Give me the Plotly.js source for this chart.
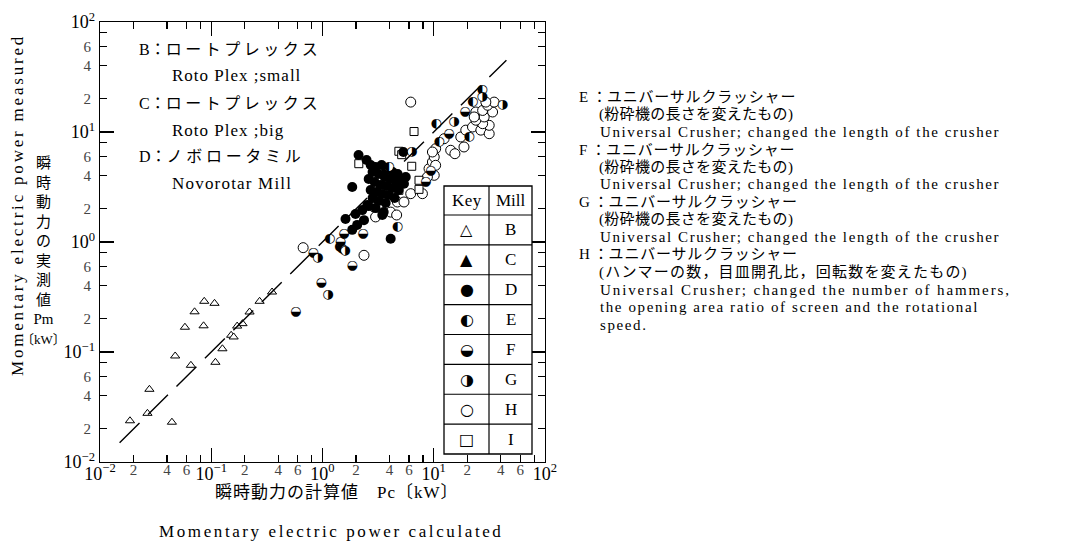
<!DOCTYPE html>
<html><head><meta charset="utf-8">
<script src="https://cdn.plot.ly/plotly-3.0.1.min.js"></script>
<style>body{margin:0;background:#fff}</style>
</head><body>
<div id="chart" style="width:1075px;height:542px"></div>
<script>
// ---------- tick labels ----------
const decadeVals = [0.01, 0.1, 1, 10, 100];
const decadeText = ['10<sup>−2</sup>', '10<sup>−1</sup>', '10<sup>0</sup>', '10<sup>1</sup>', '10<sup>2</sup>'];
const minorVals = [0.02, 0.04, 0.06, 0.2, 0.4, 0.6, 2, 4, 6, 20, 40, 60];
const minorText = ['2', '4', '6', '2', '4', '6', '2', '4', '6', '2', '4', '6'];
const eighthVals = [0.08, 0.8, 8, 80];

// ---------- data: Pc (calculated) vs Pm (measured), kW ----------
// B: Roto Plex small (open triangles)
const xB = [0.0186, 0.0267, 0.0278, 0.0443, 0.0474, 0.058, 0.0656, 0.0708, 0.0865, 0.107, 0.0853, 0.109, 0.126, 0.151, 0.159, 0.171, 0.191, 0.221, 0.272, 0.352];
const yB = [0.0237, 0.0277, 0.0458, 0.023, 0.092, 0.168, 0.0757, 0.232, 0.289, 0.277, 0.173, 0.0806, 0.107, 0.142, 0.137, 0.172, 0.181, 0.231, 0.289, 0.351];
// D: Novorotar Mill (filled circles)
const xD = [2.11, 2.49, 1.85, 1.61, 1.98, 2.28, 2.53, 2.05, 2.36, 1.85, 3.45, 4.10, 5.33, 5.40, 5.60,
  2.71, 3.00, 3.40, 3.77, 4.27, 4.74, 2.82, 3.20, 3.62, 4.10, 4.64, 5.04, 2.60, 2.94, 3.33, 3.77, 4.27, 4.84,
  2.71, 3.07, 3.47, 3.93, 4.45, 2.82, 3.20, 3.70, 2.60, 3.00, 3.55];
const yD = [6.18, 5.56, 3.16, 1.62, 1.80, 1.95, 2.17, 1.43, 1.58, 1.29, 1.76, 1.07, 6.58, 3.39, 3.90,
  5.01, 4.81, 5.01, 4.52, 4.33, 4.15, 4.33, 4.15, 3.90, 3.74, 3.51, 3.66, 3.74, 3.51, 3.30, 3.23, 3.10, 2.97,
  2.97, 2.85, 2.73, 2.67, 2.51, 2.51, 2.36, 2.26, 2.12, 2.04, 1.87];
// E: left half black
const xE = [1.16, 1.50, 4.71, 3.96, 10.5, 22.4, 27.3, 20.8, 11.2, 1.43];
const yE = [1.07, 0.869, 1.37, 4.81, 11.9, 18.7, 24.1, 9.01, 8.11, 0.901];
// F: lower half black
const xF = [0.824, 0.973, 0.574, 1.85, 2.31, 1.56, 1.45, 9.40, 8.47, 19.1, 13.7];
const yF = [0.80, 0.424, 0.231, 0.614, 1.19, 1.19, 1.0, 4.48, 3.51, 15.2, 9.65];
// G: right half black
const xG = [0.907, 1.12, 15.2, 41.4, 27.3, 6.34, 1.59];
const yG = [0.716, 0.332, 12.3, 17.7, 20.8, 6.68, 0.841];
// H: open circles
const xH = [0.670, 2.36, 4.10, 4.71, 5.40, 6.21, 7.91, 2.90, 3.00, 9.07, 10.1, 9.73, 10.1, 10.4, 10.4, 12.4, 14.2, 15.5, 18.7, 17.5,
  19.4, 22.3, 26.5, 31.5, 31.5, 27.5, 23.9, 28.4, 33.8, 23.9, 27.5, 30.5, 34.9, 6.21, 9.73, 23.1, 29.4, 8.77, 4.64];
const yH = [0.888, 0.757, 1.87, 2.31, 2.31, 2.75, 2.75, 2.08, 1.69, 4.64, 4.04, 5.34, 5.93, 4.98, 7.05, 8.69, 6.82, 6.35, 7.31, 9.01,
  10.4, 11.1, 10.4, 9.65, 11.5, 11.9, 12.8, 13.7, 15.2, 15.2, 15.7, 17.5, 18.7, 18.7, 6.58, 13.7, 18.7, 3.90, 1.76];
// I: open squares
const xI = [2.12, 4.86, 5.15, 6.65, 6.34, 7.37, 7.37, 4.86];
const yI = [5.15, 6.68, 6.22, 10.1, 4.88, 3.64, 3.01, 2.95];
// Pm = Pc reference line
const xLine = [0.015, 45];
const yLine = [0.015, 45];

// key table
const keyGlyphs = ['△', '▲', '●', '◐', '◒', '◑', '○', '□'];
const millNames = ['B', 'C', 'D', 'E', 'F', 'G', 'H', 'I'];

// ---------- layout helpers (pixel -> paper) ----------
const PL = 100, PR = 545, PT = 22, PB = 462;
const px = v => (v - PL) / (PR - PL);
const py = v => (PB - v) / (PB - PT);
const SERIF = 'Liberation Serif, Noto Sans CJK JP, serif';
const JP = 'Liberation Serif, Noto Sans CJK JP, sans-serif';
const sp = (t, s) => `<span style="letter-spacing:${s}px">${t}</span>`;

const openMk = (sym, size) => ({symbol: sym, size: size, color: 'white', line: {color: 'black', width: 1}});
const halfTrace = (xs, ys, g) => ({
  x: xs, y: ys, type: 'scatter', mode: 'markers+text', text: xs.map(() => g),
  textposition: 'middle center', textfont: {family: 'DejaVu Sans', size: 13, color: 'black'},
  marker: {symbol: 'circle', size: 8, color: 'white', line: {width: 0}}, cliponaxis: false
});

const traces = [
  {x: xLine, y: yLine, xaxis: 'x2', yaxis: 'y2', type: 'scatter', mode: 'lines',
   line: {color: 'black', width: 1.4, dash: '28px,12px'}},
  {x: xH, y: yH, type: 'scatter', mode: 'markers', marker: openMk('circle', 10)},
  {x: xI, y: yI, type: 'scatter', mode: 'markers', marker: openMk('square', 8)},
  {x: xB, y: yB, type: 'scatter', mode: 'markers', marker: openMk('triangle-up', 8)},
  {x: xD, y: yD, type: 'scatter', mode: 'markers', marker: {symbol: 'circle', size: 10, color: 'black'}},
  halfTrace(xE, yE, '◐'),
  halfTrace(xF, yF, '◒'),
  halfTrace(xG, yG, '◑')
];

const axMajor = {
  type: 'log', range: [-2, 2], tickmode: 'array', tickvals: decadeVals, ticktext: decadeText,
  ticks: 'inside', ticklen: 14, tickwidth: 1.3, tickcolor: 'black',
  showline: true, linewidth: 1.4, linecolor: 'black', mirror: 'ticks',
  showgrid: false, zeroline: false, tickfont: {family: SERIF, size: 18, color: 'black'}, fixedrange: true
};
const axMinor = {
  type: 'log', range: [-2, 2], tickmode: 'array', tickvals: minorVals, ticktext: minorText,
  ticks: 'inside', ticklen: 7, tickwidth: 1.2, tickcolor: 'black',
  minor: {tickmode: 'array', tickvals: eighthVals, ticklen: 7, tickwidth: 1.2, tickcolor: 'black', ticks: 'inside', showgrid: false},
  showline: false, mirror: 'ticks', showgrid: false, zeroline: false,
  tickfont: {family: SERIF, size: 15, color: '#444'}, fixedrange: true
};

// ---------- annotations ----------
const ann = [];
const addText = (x, y, text, size, opts = {}) => ann.push(Object.assign({
  xref: 'paper', yref: 'paper', x: px(x), y: py(y), text: text, showarrow: false,
  xanchor: 'left', yanchor: 'middle', font: {family: JP, size: size, color: 'black'}
}, opts));

// in-plot mill labels
addText(137, 49, 'B：' + sp('ロートプレックス', 3.5), 16);
addText(170, 76, sp('Roto Plex ;small', 1), 17);
addText(137, 103, 'C：' + sp('ロートプレックス', 3.5), 16);
addText(170, 130, sp('Roto Plex ;big', 1), 17);
addText(137, 157, 'D：' + sp('ノボロータミル', 3.7), 16);
addText(170, 183, sp('Novorotar Mill', 1.2), 17);

// right-hand description block
const rightLines = [
  [577, 'E ：', 'ユニバーサルクラッシャー', 0.8],
  [597, '', '(粉砕機の長さを変えたもの)', 0.3],
  [598, '', 'Universal Crusher; changed the length of the crusher', 1.6],
  [577, 'F ：', 'ユニバーサルクラッシャー', 0.8],
  [597, '', '(粉砕機の長さを変えたもの)', 0.3],
  [598, '', 'Universal Crusher; changed the length of the crusher', 1.6],
  [577, 'G ：', 'ユニバーサルクラッシャー', 0.8],
  [597, '', '(粉砕機の長さを変えたもの)', 0.3],
  [598, '', 'Universal Crusher; changed the length of the crusher', 1.6],
  [577, 'H ：', 'ユニバーサルクラッシャー', 0.8],
  [597, '', '(ハンマーの数，目皿開孔比，回転数を変えたもの)', 1.2],
  [598, '', 'Universal Crusher; changed the number of hammers,', 1.9],
  [598, '', 'the opening area ratio of screen and the rotational', 1.6],
  [598, '', 'speed.', 1.6]
];
rightLines.forEach((l, i) => addText(l[0], 97 + i * 17.5, l[1] + sp(l[2], l[3]), 15));

// axis titles
addText(337, 492, sp('瞬時動力の計算値　Pc〔kW〕', 1), 17, {xanchor: 'center'});
addText(331, 531, sp('Momentary electric power calculated', 2.6), 17, {xanchor: 'center'});
addText(17, 205, sp('Momentary electric power measured', 2.8), 17, {xanchor: 'center', textangle: -90});
addText(43, 153, '瞬<br>時<br>動<br>力<br>の<br>実<br>測<br>値<br>Pm<br><span style="font-size:13px">〔kW〕</span>', 15,
  {xanchor: 'center', yanchor: 'top'});

// key table
const TL = 444, TR = 532, TM = 489, TT = 186, TH = 215, TB = 454;
const rowH = (TB - TH) / keyGlyphs.length;
const shapes = [
  {type: 'rect', xref: 'paper', yref: 'paper', x0: px(TL), x1: px(TR), y0: py(TB), y1: py(TT),
   line: {color: 'black', width: 1.3}, fillcolor: 'white', layer: 'above'},
  {type: 'line', xref: 'paper', yref: 'paper', x0: px(TM), x1: px(TM), y0: py(TB), y1: py(TT),
   line: {color: 'black', width: 1.2}, layer: 'above'}
];
for (let k = 0; k < keyGlyphs.length; k++) {
  const yTop = TH + k * rowH;
  shapes.push({type: 'line', xref: 'paper', yref: 'paper', x0: px(TL), x1: px(TR), y0: py(yTop), y1: py(yTop),
    line: {color: 'black', width: 1.1}, layer: 'above'});
  const yc = yTop + rowH / 2;
  addText((TL + TM) / 2, yc, keyGlyphs[k], 16, {xanchor: 'center', font: {family: 'DejaVu Sans', size: 16, color: 'black'}});
  addText((TM + TR) / 2, yc, millNames[k], 17, {xanchor: 'center'});
}
addText((TL + TM) / 2, (TT + TH) / 2, sp('Key', 0.5), 17, {xanchor: 'center'});
addText((TM + TR) / 2, (TT + TH) / 2, 'Mill', 17, {xanchor: 'center'});

const layout = {
  width: 1075, height: 542,
  margin: {l: PL, r: 1075 - PR, t: PT, b: 542 - PB},
  paper_bgcolor: 'white', plot_bgcolor: 'white',
  showlegend: false, hovermode: false,
  xaxis: Object.assign({}, axMajor, {ticklabelstandoff: -5}),
  yaxis: Object.assign({}, axMajor),
  xaxis2: Object.assign({}, axMinor, {overlaying: 'x', anchor: 'y', side: 'bottom', ticklabelstandoff: -3}),
  yaxis2: Object.assign({}, axMinor, {overlaying: 'y', anchor: 'x', side: 'left', ticklabelstandoff: 8}),
  shapes: shapes,
  annotations: ann
};

Plotly.newPlot('chart', traces, layout, {staticPlot: true, displayModeBar: false});
</script>
</body></html>
